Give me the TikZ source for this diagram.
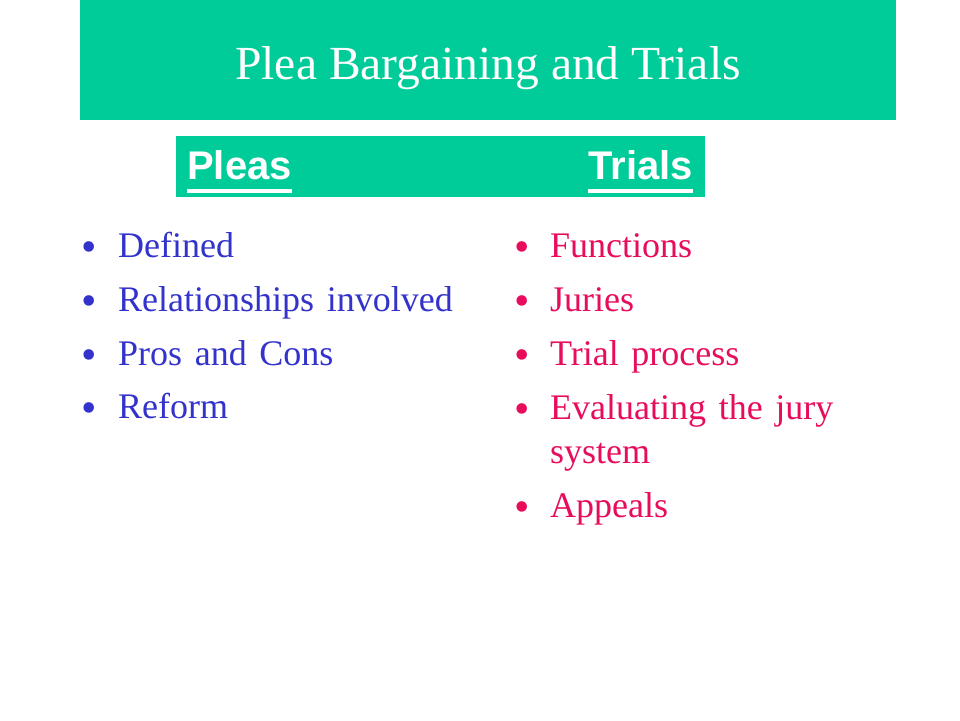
\documentclass[tikz,border=0pt]{standalone}
\usepackage{fontspec}
\setmainfont{Liberation Serif}
\newfontfamily\listfont{Liberation Serif}[WordSpace=1.4]
\newfontfamily\headfont{Liberation Sans}
\usepackage{xcolor}
\definecolor{PleaGreen}{RGB}{0,204,153}
\definecolor{PleaBlue}{RGB}{51,51,204}
\definecolor{PleaRed}{RGB}{232,12,92}

\begin{document}
\begin{tikzpicture}[x=1pt,y=-1pt,
  item/.style={anchor=base west, inner sep=0pt, font=\listfont\fontsize{36}{44}\selectfont},
  dot/.style={anchor=base, inner sep=0pt, font=\fontsize{44}{52}\selectfont},
  head/.style={inner sep=0pt, text=white, font=\headfont\bfseries\fontsize{40}{46}\selectfont}]

% Page
\useasboundingbox (0,0) rectangle (960,720);
\fill[white] (0,0) rectangle (960,720);

% Title band
\fill[PleaGreen] (80,0) rectangle (896,120);
\node[anchor=base, inner sep=0pt, text=white, font=\fontsize{47.5}{56}\selectfont] (title) at (488,79) {Plea Bargaining and Trials};

% Column headings
\fill[PleaGreen] (176,136) rectangle (705,197);
\node[head, anchor=base west] (pleas) at (187,179) {Pleas};
\node[head, anchor=base east] (trials) at (693,179) {Trials};
\draw[white, line width=3.5pt] ([yshift=-12pt]pleas.base west) -- ([yshift=-12pt]pleas.base east);
\draw[white, line width=3.5pt] ([yshift=-12pt]trials.base west) -- ([yshift=-12pt]trials.base east);

% Pleas list
\foreach \y/\txt [count=\i] in {257/Defined, 311/Relationships involved, 365/Pros and Cons, 418/Reform} {
    \node[dot, text=PleaBlue] (pdot\i) at (89,\y+4) {•};
    \node[item, text=PleaBlue] (pitem\i) at (118,\y) {\txt};
}

% Trials list
\foreach \y/\txt [count=\i] in {257/Functions, 311/Juries, 365/Trial process, 419/Evaluating the jury, 517/Appeals} {
    \node[dot, text=PleaRed] (tdot\i) at (522,\y+4) {•};
    \node[item, text=PleaRed] (titem\i) at (550,\y) {\txt};
}
\node[item, text=PleaRed] (titem4b) at (550,463) {system};

\end{tikzpicture}
\end{document}
